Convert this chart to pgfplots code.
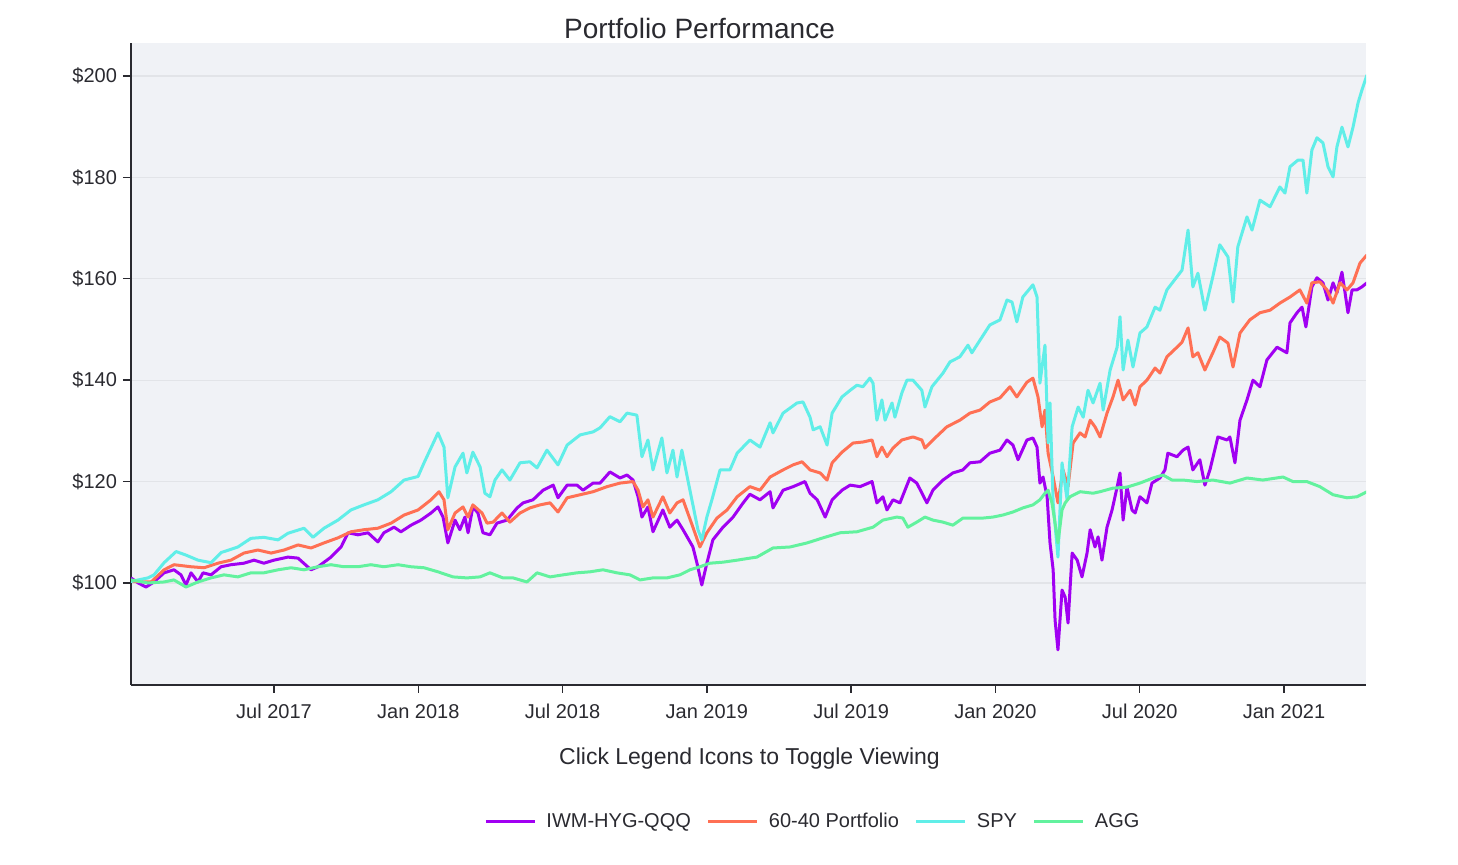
\documentclass[border=0pt]{standalone}
\usepackage{pgfplots}
\pgfplotsset{compat=1.18}
\usepackage{fontspec}
\setmainfont{Liberation Sans}
\definecolor{cpur}{RGB}{161,0,242}
\definecolor{cora}{RGB}{255,112,84}
\definecolor{ccya}{RGB}{96,238,232}
\definecolor{cgre}{RGB}{98,242,158}
\definecolor{plotbg}{RGB}{240,242,246}
\definecolor{gridc}{RGB}{226,228,232}
\definecolor{txt}{RGB}{42,42,48}

\pgfplotstableread{
m v
0.05 101.0
0.35 100.0
0.68 99.2
1.01 100.2
1.43 102.0
1.84 102.6
2.13 101.6
2.34 99.6
2.55 102.0
2.84 100.2
3.05 102.0
3.38 101.6
3.80 103.2
4.21 103.6
4.75 103.9
5.17 104.5
5.58 103.9
6.00 104.5
6.58 105.1
7.00 104.9
7.54 102.6
7.83 103.2
8.37 105.1
8.79 107.1
9.08 109.9
9.49 109.5
9.91 109.9
10.32 108.1
10.57 109.9
10.99 111.0
11.28 110.1
11.70 111.4
12.11 112.4
12.53 113.8
12.82 115.0
13.03 113.0
13.23 107.9
13.53 112.4
13.73 110.5
13.94 113.0
14.07 109.9
14.27 115.0
14.48 113.8
14.69 109.9
14.98 109.5
15.27 111.8
15.69 112.4
16.11 114.8
16.36 115.8
16.77 116.4
17.19 118.3
17.61 119.3
17.81 116.8
18.19 119.3
18.60 119.3
18.85 118.3
19.27 119.7
19.56 119.7
19.97 121.9
20.39 120.7
20.68 121.3
20.93 120.3
21.14 117.0
21.30 113.0
21.55 115.0
21.76 110.1
22.17 114.4
22.46 111.0
22.76 112.4
23.01 110.5
23.42 107.1
23.59 103.9
23.79 99.6
24.00 103.9
24.25 108.5
24.67 111.0
25.09 113.0
25.51 115.8
25.79 117.5
26.21 116.4
26.63 118.0
26.75 114.8
27.17 118.3
27.59 119.0
28.08 120.0
28.29 117.7
28.59 116.4
28.92 113.0
29.21 116.4
29.62 118.3
29.96 119.3
30.37 119.0
30.87 120.0
31.07 115.8
31.32 117.0
31.49 114.4
31.74 116.4
32.03 115.8
32.44 120.7
32.73 119.7
33.15 115.8
33.40 118.3
33.82 120.3
34.23 121.7
34.65 122.3
34.94 123.7
35.36 123.9
35.77 125.6
36.19 126.2
36.48 128.2
36.73 127.2
36.94 124.3
37.31 128.2
37.56 128.6
37.73 126.8
37.85 119.7
37.98 120.9
38.15 117.0
38.27 107.9
38.40 102.6
38.48 92.7
38.60 86.8
38.77 98.6
38.90 97.2
39.02 92.1
39.19 105.9
39.40 104.5
39.60 101.2
39.81 105.9
39.94 110.5
40.14 107.1
40.27 109.1
40.43 104.5
40.64 111.0
40.85 114.4
41.06 118.9
41.18 121.7
41.31 112.4
41.47 118.9
41.68 114.4
41.81 113.8
42.01 117.0
42.30 115.8
42.51 119.7
42.84 120.7
43.05 122.3
43.17 125.6
43.55 124.9
43.80 126.2
44.01 126.8
44.21 122.3
44.50 124.3
44.71 119.3
44.92 122.3
45.25 128.8
45.63 128.2
45.75 128.8
45.96 123.7
46.17 132.1
46.46 136.1
46.71 140.0
47.00 138.7
47.29 144.0
47.71 146.5
48.12 145.4
48.25 151.3
48.54 153.3
48.75 154.4
48.91 150.5
49.16 158.4
49.37 160.2
49.62 159.2
49.83 155.8
50.04 159.2
50.20 157.2
50.41 161.3
50.54 157.2
50.66 153.3
50.83 157.8
51.03 157.8
51.24 158.4
51.45 159.2
}\iwm

\pgfplotstableread{
m v
0.05 100.3
0.89 100.2
1.43 102.6
1.84 103.6
2.55 103.2
3.09 103.0
3.67 103.9
4.21 104.5
4.75 105.9
5.33 106.5
5.88 105.9
6.42 106.5
7.00 107.5
7.54 106.9
8.08 107.9
8.66 108.9
9.20 110.1
9.74 110.5
10.32 110.8
10.87 111.8
11.41 113.4
11.99 114.4
12.53 116.4
12.86 118.0
13.07 116.4
13.23 110.5
13.53 113.8
13.86 115.0
14.07 113.0
14.27 115.4
14.65 113.8
14.86 111.8
15.11 112.0
15.48 113.8
15.81 112.0
16.23 113.8
16.64 114.8
17.06 115.4
17.48 115.8
17.81 114.0
18.19 116.8
18.73 117.4
19.27 118.0
19.85 119.0
20.39 119.7
20.93 120.0
21.14 118.3
21.34 115.0
21.55 116.4
21.76 113.0
22.17 117.0
22.46 113.8
22.76 115.8
23.01 116.4
23.42 111.0
23.71 107.1
24.00 109.9
24.42 112.8
24.84 114.4
25.26 117.0
25.79 119.0
26.21 118.3
26.63 120.9
27.17 122.3
27.59 123.3
27.96 123.9
28.29 122.3
28.71 121.7
29.00 120.3
29.21 123.7
29.62 125.8
30.08 127.6
30.49 127.8
30.87 128.2
31.07 124.9
31.28 126.8
31.49 124.9
31.74 126.6
32.11 128.2
32.57 128.8
32.94 128.2
33.07 126.6
33.40 128.2
33.98 130.8
34.52 132.1
34.94 133.5
35.36 134.1
35.77 135.7
36.19 136.5
36.60 138.7
36.89 136.7
37.31 139.6
37.56 140.4
37.77 136.7
37.94 130.8
38.06 134.1
38.19 125.6
38.40 120.9
38.60 115.8
38.81 122.3
39.02 119.0
39.23 127.6
39.52 129.6
39.73 128.8
39.94 132.1
40.14 130.8
40.35 128.8
40.64 133.5
40.89 136.7
41.10 140.0
41.31 136.1
41.60 138.0
41.81 135.1
42.01 138.7
42.30 140.0
42.64 142.4
42.84 141.4
43.13 144.6
43.55 146.5
43.76 147.5
44.01 150.3
44.21 144.6
44.42 145.4
44.71 142.0
45.04 145.4
45.33 148.5
45.67 147.3
45.88 142.6
46.17 149.3
46.58 151.9
47.00 153.3
47.42 153.8
47.83 155.2
48.25 156.4
48.66 157.8
48.95 155.2
49.16 159.2
49.49 159.4
49.79 157.8
50.04 155.2
50.33 159.2
50.62 157.8
50.87 159.2
51.16 163.1
51.45 164.7
}\sixty

\pgfplotstableread{
m v
0.05 100.3
0.76 101.0
1.01 101.6
1.43 104.0
1.93 106.2
2.34 105.5
2.84 104.5
3.38 104.0
3.80 106.0
4.50 107.1
5.04 108.8
5.58 109.0
6.17 108.5
6.58 109.8
7.25 110.8
7.62 109.0
8.08 110.8
8.66 112.4
9.20 114.4
9.74 115.4
10.32 116.4
10.87 118.0
11.41 120.3
11.99 121.0
12.24 123.7
12.82 129.6
13.07 126.8
13.23 116.8
13.53 122.9
13.86 125.6
14.02 121.7
14.27 125.8
14.57 122.9
14.77 117.7
14.98 117.0
15.19 120.3
15.48 122.3
15.81 120.3
16.23 123.7
16.64 123.9
16.94 122.7
17.35 126.2
17.81 123.3
18.19 127.2
18.73 129.2
19.27 129.8
19.56 130.6
19.97 132.8
20.39 131.8
20.68 133.5
21.09 133.1
21.30 124.9
21.55 128.2
21.76 122.3
22.13 128.6
22.34 121.7
22.59 126.2
22.76 120.9
22.96 126.2
23.21 120.3
23.63 110.5
23.79 108.5
24.00 113.0
24.21 116.4
24.55 122.3
24.96 122.3
25.26 125.6
25.79 128.2
26.21 126.8
26.63 131.6
26.75 129.6
27.17 133.5
27.75 135.5
28.00 135.7
28.29 132.7
28.42 130.2
28.71 130.8
29.00 127.2
29.21 133.5
29.62 136.7
29.96 138.0
30.24 139.0
30.49 138.7
30.78 140.4
30.91 139.4
31.07 132.1
31.28 136.1
31.41 132.1
31.70 135.5
31.82 132.7
32.11 137.5
32.32 140.0
32.57 140.0
32.94 138.0
33.07 134.7
33.36 138.7
33.82 141.4
34.11 143.6
34.52 144.6
34.86 146.9
35.02 145.4
35.36 147.9
35.77 150.9
36.19 151.9
36.48 155.8
36.69 155.4
36.89 151.5
37.14 156.4
37.56 158.8
37.73 156.4
37.85 139.4
38.06 146.9
38.19 127.6
38.27 135.5
38.40 115.8
38.60 105.1
38.77 123.7
38.98 116.4
39.19 130.8
39.44 134.7
39.65 132.7
39.85 138.0
40.06 135.5
40.35 139.4
40.48 134.1
40.77 142.0
41.06 146.5
41.18 152.5
41.31 142.0
41.51 147.9
41.72 142.6
42.01 149.3
42.30 150.5
42.64 154.4
42.84 153.8
43.13 157.8
43.55 160.4
43.76 161.7
44.01 169.6
44.21 158.4
44.42 161.1
44.71 153.8
45.04 160.4
45.33 166.7
45.67 164.3
45.88 155.4
46.08 166.3
46.46 172.2
46.67 169.6
47.00 175.5
47.42 174.2
47.83 178.1
48.04 176.9
48.25 182.1
48.58 183.4
48.79 183.4
48.95 176.9
49.16 185.4
49.37 187.8
49.62 186.8
49.83 182.1
50.04 180.1
50.20 186.0
50.41 189.9
50.66 186.0
50.87 189.9
51.08 194.7
51.24 197.2
51.45 200.2
}\spy

\pgfplotstableread{
m v
0.05 100.6
0.76 100.0
1.43 100.2
1.84 100.6
2.34 99.2
2.84 100.2
3.38 101.0
3.92 101.6
4.50 101.2
5.04 102.0
5.58 102.0
6.17 102.6
6.71 103.0
7.25 102.6
7.83 103.2
8.37 103.6
8.91 103.2
9.49 103.2
10.03 103.6
10.57 103.2
11.16 103.6
11.70 103.2
12.24 103.0
12.82 102.2
13.44 101.2
14.02 101.0
14.57 101.2
14.98 102.0
15.52 101.0
15.94 101.0
16.52 100.2
16.94 102.0
17.48 101.2
18.02 101.6
18.60 102.0
19.14 102.2
19.68 102.6
20.26 102.0
20.80 101.6
21.22 100.6
21.76 101.0
22.34 101.0
22.88 101.6
23.30 102.6
23.71 103.2
24.13 103.9
24.67 104.1
25.26 104.5
25.79 104.9
26.08 105.1
26.75 106.9
27.46 107.1
28.17 107.9
28.83 108.9
29.54 109.9
30.24 110.1
30.91 111.0
31.32 112.4
31.90 113.0
32.15 112.8
32.36 111.0
32.73 112.0
33.07 113.0
33.40 112.4
33.82 112.0
34.23 111.4
34.65 112.8
35.07 112.8
35.48 112.8
35.90 113.0
36.31 113.4
36.73 114.0
37.14 114.8
37.56 115.4
37.85 116.4
38.06 117.7
38.19 118.3
38.35 115.8
38.48 111.8
38.60 107.9
38.77 114.4
38.90 115.8
39.10 117.0
39.52 118.0
40.06 117.7
40.35 118.0
40.89 118.7
41.47 118.9
42.01 119.7
42.55 120.7
42.97 121.3
43.34 120.3
43.80 120.3
44.38 120.0
45.04 120.3
45.75 119.7
46.46 120.7
47.12 120.3
47.96 120.9
48.37 120.0
48.95 120.0
49.49 119.0
50.04 117.4
50.62 116.8
51.03 117.0
51.45 118.0
}\agg

\begin{document}
\begin{tikzpicture}[x=1pt,y=1pt]
\path[use as bounding box] (0,0) rectangle (729,432.5);
\begin{axis}[
  at={(65.5pt,90pt)}, anchor=south west,
  width=617.5pt, height=321pt, scale only axis,
  xmin=0.054, xmax=51.41, ymin=79.88, ymax=206.5,
  axis background/.style={fill=plotbg},
  axis lines*=left,
  axis line style={-, txt, line width=1.1pt},
  xtick={6,12,18,24,30,36,42,48},
  xticklabels={Jul 2017,Jan 2018,Jul 2018,Jan 2019,Jul 2019,Jan 2020,Jul 2020,Jan 2021},
  ytick={100,120,140,160,180,200},
  yticklabels={\$100,\$120,\$140,\$160,\$180,\$200},
  ymajorgrids, grid style={gridc, line width=0.6pt},
  tick style={txt, line width=0.7pt},
  tick align=outside, major tick length=4pt,
  xticklabel style={yshift=-2pt},
  yticklabel style={xshift=0.5pt},
  ticklabel style={font=\fontsize{10}{12}\selectfont, text=txt},
  every axis plot/.append style={line width=1.5pt, line join=round},
  legend columns=4,
  legend style={at={(0.5530,-0.2134)}, anchor=center, draw=none, fill=none,
    font=\fontsize{10}{12}\selectfont, text=txt,
    /tikz/every odd column/.append style={column sep=3pt},
    /tikz/every even column/.append style={column sep=6pt}},
  legend image code/.code={\draw[#1] (0pt,0pt) -- (24.5pt,0pt);},
  legend cell align=left,
]
\addplot[cpur] table[x=m,y=v] {\iwm};
\addlegendentry{IWM-HYG-QQQ}
\addplot[cora] table[x=m,y=v] {\sixty};
\addlegendentry{60-40 Portfolio}
\addplot[ccya] table[x=m,y=v] {\spy};
\addlegendentry{SPY}
\addplot[cgre] table[x=m,y=v] {\agg};
\addlegendentry{AGG}
\end{axis}
\node[font=\fontsize{14}{17}\selectfont, text=txt] at (349.75,418) {Portfolio Performance};
\node[font=\fontsize{11.5}{14}\selectfont, text=txt] at (374.75,53) {Click Legend Icons to Toggle Viewing};
\end{tikzpicture}
\end{document}
